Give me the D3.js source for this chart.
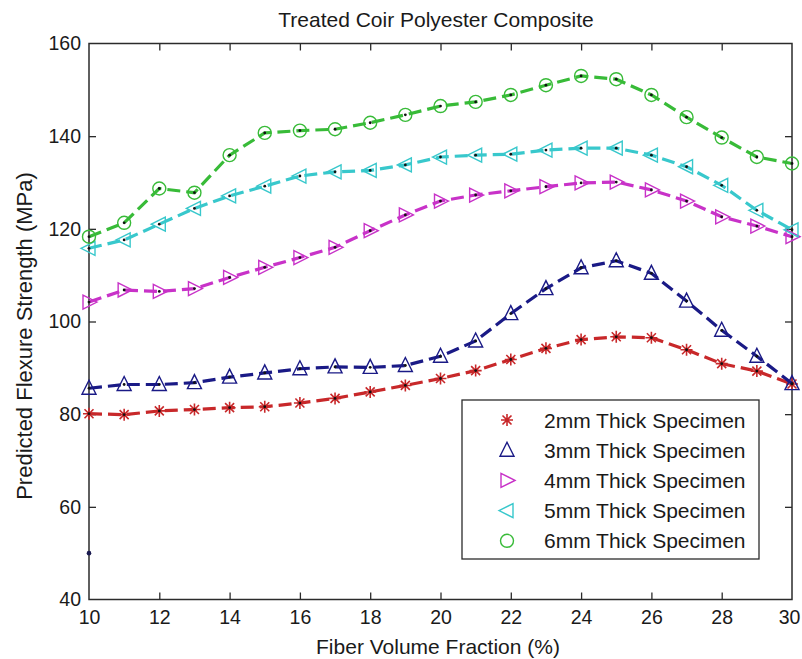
<!DOCTYPE html>
<html>
<head>
<meta charset="utf-8">
<script src="https://cdn.jsdelivr.net/npm/d3@7"></script>
<style>
  html, body { margin: 0; padding: 0; background: #fff; }
  svg { display: block; }
  text { font-family: "Liberation Sans", Arial, Helvetica, sans-serif; fill: #1a1a1a; }
</style>
</head>
<body>
<svg id="chart" width="802" height="659"></svg>
<script>
// Fiber volume fraction (%) at which each specimen was evaluated
const fiberFraction = [10, 11, 12, 13, 14, 15, 16, 17, 18, 19, 20, 21, 22, 23, 24, 25, 26, 27, 28, 29, 30];

// Predicted flexural strength (MPa) by specimen thickness
const strength2mm = [80.1, 79.9, 80.7, 81.0, 81.4, 81.6, 82.4, 83.4, 84.8, 86.2, 87.7, 89.4, 91.8, 94.2, 96.1, 96.7, 96.5, 93.9, 90.9, 89.3, 86.5];
const strength3mm = [85.6, 86.4, 86.4, 86.8, 88.0, 88.9, 89.8, 90.2, 90.1, 90.5, 92.5, 95.8, 101.7, 107.1, 111.6, 113.1, 110.4, 104.4, 98.1, 92.5, 86.6];
const strength4mm = [104.2, 106.8, 106.5, 107.1, 109.5, 111.7, 113.8, 116.0, 119.6, 123.0, 126.0, 127.3, 128.2, 129.1, 129.9, 130.1, 128.4, 126.0, 122.6, 120.6, 118.3];
const strength5mm = [115.8, 117.6, 121.0, 124.4, 127.1, 129.2, 131.4, 132.3, 132.6, 133.8, 135.5, 135.9, 136.1, 137.0, 137.4, 137.4, 135.9, 133.4, 129.4, 124.0, 119.8];
const strength6mm = [118.3, 121.3, 128.7, 127.8, 135.9, 140.7, 141.2, 141.5, 142.9, 144.6, 146.5, 147.4, 148.9, 151.0, 153.0, 152.3, 148.9, 144.1, 139.7, 135.5, 134.1];

// Lone reference point plotted at the left edge
const loosePointX = [10];
const loosePointY = [50];

const seriesNames = ["2mm Thick Specimen", "3mm Thick Specimen", "4mm Thick Specimen", "5mm Thick Specimen", "6mm Thick Specimen"];
const seriesValues = [strength2mm, strength3mm, strength4mm, strength5mm, strength6mm];
const seriesColors = ["#c8282a", "#1a1a86", "#c832c8", "#38c8cc", "#38bb38"];
const seriesMarkers = ["star", "triUp", "triRight", "triLeft", "circle"];

const xTicks = [10, 12, 14, 16, 18, 20, 22, 24, 26, 28, 30];
const yTicks = [40, 60, 80, 100, 120, 140, 160];

const titleText = "Treated Coir Polyester Composite";
const xTitle = "Fiber Volume Fraction (%)";
const yTitle = "Predicted Flexure Strength (MPa)";

const svg = d3.select("#chart");
const plot = { left: 89, right: 792, top: 43.5, bottom: 599.5 };

const x = d3.scaleLinear().domain([10, 30]).range([plot.left, plot.right]);
const y = d3.scaleLinear().domain([40, 160]).range([plot.bottom, plot.top]);

const axisColor = "#2b2b2b";

// Box around the plotting area
svg.append("rect")
  .attr("x", plot.left).attr("y", plot.top)
  .attr("width", plot.right - plot.left).attr("height", plot.bottom - plot.top)
  .attr("fill", "none").attr("stroke", axisColor).attr("stroke-width", 1.5);

// Inward ticks on all four sides, labels on bottom and left only
const tickLen = 7;
const styleAxis = g => {
  g.select(".domain").remove();
  g.selectAll(".tick line").attr("stroke", axisColor).attr("stroke-width", 1.3);
  g.selectAll(".tick text").style("font-size", "19.5px").attr("fill", "#1a1a1a");
};

svg.append("g").attr("transform", `translate(0,${plot.bottom})`)
  .call(d3.axisBottom(x).tickValues(xTicks).tickFormat(d3.format("d")).tickSizeInner(-tickLen).tickSizeOuter(0).tickPadding(11))
  .call(styleAxis)
  // keep the last label inside the figure edge
  .call(g => g.selectAll(".tick text").filter(d => d === 30).attr("dx", -3));
svg.append("g").attr("transform", `translate(0,${plot.top})`)
  .call(d3.axisTop(x).tickValues(xTicks).tickFormat("").tickSizeInner(-tickLen).tickSizeOuter(0))
  .call(styleAxis);
svg.append("g").attr("transform", `translate(${plot.left},0)`)
  .call(d3.axisLeft(y).tickValues(yTicks).tickFormat(d3.format("d")).tickSizeInner(-tickLen).tickSizeOuter(0).tickPadding(8))
  .call(styleAxis);
svg.append("g").attr("transform", `translate(${plot.right},0)`)
  .call(d3.axisRight(y).tickValues(yTicks).tickFormat("").tickSizeInner(-tickLen).tickSizeOuter(0))
  .call(styleAxis);

// Hide ticks that sit on the box corners
svg.selectAll(".tick").filter(d => d === 10 || d === 30 || d === 40 || d === 160).select("line").remove();

// Titles
svg.append("text").attr("x", 436).attr("y", 27).attr("text-anchor", "middle")
  .style("font-size", "21px").text(titleText);
svg.append("text").attr("x", 438).attr("y", 654).attr("text-anchor", "middle")
  .style("font-size", "21px").text(xTitle);
svg.append("text").attr("transform", "translate(32,336) rotate(-90)").attr("text-anchor", "middle")
  .style("font-size", "22px").text(yTitle);

// Marker shapes (unfilled, MATLAB-style)
function drawMarker(g, kind, cx, cy, color) {
  const s = 7;
  if (kind === "circle") {
    g.append("circle").attr("cx", cx).attr("cy", cy).attr("r", 6.5)
      .attr("fill", "none").attr("stroke", color).attr("stroke-width", 1.4);
  } else if (kind === "star") {
    const a = 6, b = 4.5;
    const p = `M${cx - a},${cy}L${cx + a},${cy}M${cx},${cy - a}L${cx},${cy + a}` +
      `M${cx - b},${cy - b}L${cx + b},${cy + b}M${cx - b},${cy + b}L${cx + b},${cy - b}`;
    g.append("path").attr("d", p).attr("fill", "none").attr("stroke", color).attr("stroke-width", 1.6);
  } else {
    let pts;
    if (kind === "triUp") pts = [[cx, cy - s - 1], [cx - s, cy + s - 1], [cx + s, cy + s - 1]];
    if (kind === "triRight") pts = [[cx + s + 1, cy], [cx - s + 1, cy - s], [cx - s + 1, cy + s]];
    if (kind === "triLeft") pts = [[cx - s - 1, cy], [cx + s - 1, cy - s], [cx + s - 1, cy + s]];
    g.append("path").attr("d", "M" + pts.map(p => p.join(",")).join("L") + "Z")
      .attr("fill", "none").attr("stroke", color).attr("stroke-width", 1.4);
  }
}

const line = d3.line().x((d, i) => x(fiberFraction[i])).y(d => y(d));

const seriesLayer = svg.append("g");
seriesValues.forEach((vals, si) => {
  const g = seriesLayer.append("g");
  g.append("path").datum(vals).attr("d", line)
    .attr("fill", "none").attr("stroke", seriesColors[si])
    .attr("stroke-width", 3.2).attr("stroke-dasharray", "13,6");
  vals.forEach((v, i) => {
    drawMarker(g, seriesMarkers[si], x(fiberFraction[i]), y(v), seriesColors[si]);
    g.append("circle").attr("cx", x(fiberFraction[i])).attr("cy", y(v)).attr("r", 1.4).attr("fill", "#111");
  });
});

// Single point at the left edge
svg.append("g").selectAll("circle").data(loosePointY).join("circle")
  .attr("cx", (d, i) => x(loosePointX[i])).attr("cy", d => y(d)).attr("r", 2.3).attr("fill", "#1a1a50");

// Legend
const legend = svg.append("g");
legend.append("rect").attr("x", 462).attr("y", 400).attr("width", 297).attr("height", 159)
  .attr("fill", "#fff").attr("stroke", axisColor).attr("stroke-width", 1.3);
seriesNames.forEach((name, i) => {
  const cy = 420 + i * 30.2;
  drawMarker(legend, seriesMarkers[i], 507, cy, seriesColors[i]);
  legend.append("text").attr("x", 544).attr("y", cy + 7.5).style("font-size", "21px").text(name);
});
</script>
</body>
</html>
